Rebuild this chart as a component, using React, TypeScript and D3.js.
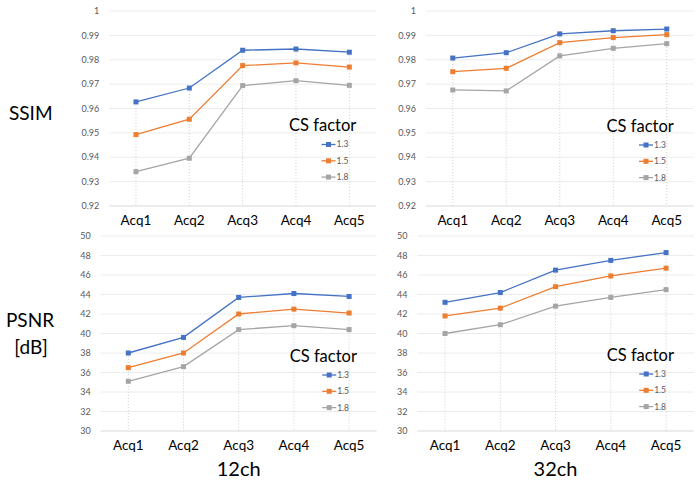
import * as d3 from 'd3';
import React from 'react';

const categories = ['Acq1', 'Acq2', 'Acq3', 'Acq4', 'Acq5'];
const factors = ['1.3', '1.5', '1.8'];
const colors = ['#4472C4', '#ED7D31', '#A5A5A5'];

// SSIM, 12ch
const ssim12F13 = [0.9627, 0.9684, 0.9839, 0.9844, 0.9831];
const ssim12F15 = [0.9493, 0.9556, 0.9776, 0.9787, 0.977];
const ssim12F18 = [0.9341, 0.9396, 0.9694, 0.9714, 0.9695];
// SSIM, 32ch
const ssim32F13 = [0.9807, 0.9829, 0.9906, 0.9919, 0.9926];
const ssim32F15 = [0.9751, 0.9765, 0.987, 0.9891, 0.9903];
const ssim32F18 = [0.9676, 0.9672, 0.9816, 0.9847, 0.9866];
// PSNR [dB], 12ch
const psnr12F13 = [38.0, 39.6, 43.7, 44.1, 43.8];
const psnr12F15 = [36.5, 38.0, 42.0, 42.5, 42.1];
const psnr12F18 = [35.1, 36.6, 40.4, 40.8, 40.4];
// PSNR [dB], 32ch
const psnr32F13 = [43.2, 44.2, 46.5, 47.5, 48.3];
const psnr32F15 = [41.8, 42.6, 44.8, 45.9, 46.7];
const psnr32F18 = [40.0, 40.9, 42.8, 43.7, 44.5];

const ssimTicks = d3.range(0.92, 1.0001, 0.01);
const psnrTicks = d3.range(30, 50.001, 2);

const FONT = "Lato, 'Open Sans', sans-serif";

const ssimFmt = (v: number) => (Math.abs(v - 1) < 1e-9 ? '1' : d3.format('.2f')(v));

interface IPanel {
  x0: number;
  x1: number;
  y0: number;
  y1: number;
  domain: [number, number];
  ticks: number[];
  fmt: (v: number) => string;
  series: number[][];
  legendY: number;
}

const panels: IPanel[] = [
  { x0: 109.3, x1: 376, y0: 11, y1: 206, domain: [0.92, 1], ticks: ssimTicks, fmt: ssimFmt, series: [ssim12F13, ssim12F15, ssim12F18], legendY: 131 },
  { x0: 426, x1: 693.5, y0: 11, y1: 206, domain: [0.92, 1], ticks: ssimTicks, fmt: ssimFmt, series: [ssim32F13, ssim32F15, ssim32F18], legendY: 131.5 },
  { x0: 100.7, x1: 376.7, y0: 236, y1: 431, domain: [30, 50], ticks: psnrTicks, fmt: d3.format('d'), series: [psnr12F13, psnr12F15, psnr12F18], legendY: 361.5 },
  { x0: 417.4, x1: 693.7, y0: 236, y1: 431, domain: [30, 50], ticks: psnrTicks, fmt: d3.format('d'), series: [psnr32F13, psnr32F15, psnr32F18], legendY: 360.5 },
];

function Panel({ p }: { p: IPanel }) {
  const x = d3.scaleBand<string>().domain(categories).range([p.x0, p.x1]);
  const y = d3.scaleLinear().domain(p.domain).range([p.y1, p.y0]);
  const cx = (c: string) => (x(c) as number) + x.bandwidth() / 2;
  const line = d3
    .line<number>()
    .x((_, i) => cx(categories[i]))
    .y((d) => y(d));

  const legendX = p.x1 - 87;

  return (
    <g>
      {p.ticks.map((t, i) => (
        <g key={i}>
          <line x1={p.x0} x2={p.x1} y1={y(t)} y2={y(t)} stroke={i === 0 ? '#d9d9d9' : '#ececec'} strokeWidth={1} />
          <text x={p.x0 - 10} y={y(t)} dy="0.35em" textAnchor="end" fontSize={9} fill="#595959" fontFamily={FONT}>
            {p.fmt(t)}
          </text>
        </g>
      ))}
      {categories.map((c, i) => (
        <g key={c}>
          <line
            x1={cx(c)}
            x2={cx(c)}
            y1={y(d3.max(p.series, (s) => s[i]) as number)}
            y2={p.y1}
            stroke="#cfcfcf"
            strokeDasharray="1,2"
            strokeWidth={1}
          />
          <text x={cx(c)} y={p.y1 + 19} textAnchor="middle" fontSize={13.5} fill="#000" fontFamily={FONT}>
            {c}
          </text>
        </g>
      ))}
      {p.series.map((s, k) => (
        <g key={k}>
          <path d={line(s) as string} fill="none" stroke={colors[k]} strokeWidth={1.3} />
          {s.map((v, i) => (
            <rect key={i} x={cx(categories[i]) - 2.5} y={y(v) - 2.5} width={5} height={5} fill={colors[k]} />
          ))}
        </g>
      ))}
      <text x={legendX} y={p.legendY} fontSize={16.5} fill="#000" fontFamily={FONT}>
        CS factor
      </text>
      {factors.map((f, k) => {
        const ly = p.legendY + 13.5 + k * 16.3;
        return (
          <g key={f}>
            <line x1={legendX + 32.5} x2={legendX + 46.5} y1={ly} y2={ly} stroke={colors[k]} strokeWidth={1.3} />
            <rect x={legendX + 37} y={ly - 2.5} width={5} height={5} fill={colors[k]} />
            <text x={legendX + 47.5} y={ly} dy="0.35em" fontSize={8.5} fill="#595959" fontFamily={FONT}>
              {f}
            </text>
          </g>
        );
      })}
    </g>
  );
}

export default function App() {
  return (
    <svg width={700} height={481} style={{ position: 'absolute', left: 0, top: 0, background: '#fff' }}>
      <rect width={700} height={481} fill="#fff" />
      {panels.map((p, i) => (
        <Panel key={i} p={p} />
      ))}
      <text x={9} y={120} fontSize={19} fontFamily={FONT} fill="#000">
        SSIM
      </text>
      <text x={30} y={327} fontSize={19} fontFamily={FONT} fill="#000" textAnchor="middle">
        PSNR
      </text>
      <text x={31} y={354} fontSize={19} fontFamily={FONT} fill="#000" textAnchor="middle">
        [dB]
      </text>
      <text x={238.7} y={476} fontSize={20} fontFamily={FONT} fill="#000" textAnchor="middle">
        12ch
      </text>
      <text x={555.5} y={476} fontSize={20} fontFamily={FONT} fill="#000" textAnchor="middle">
        32ch
      </text>
    </svg>
  );
}
